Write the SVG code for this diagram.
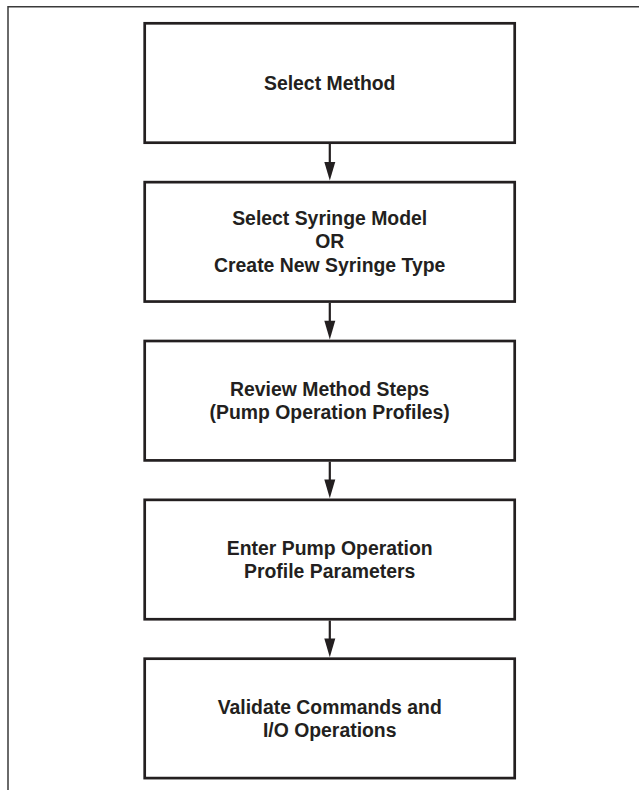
<svg xmlns="http://www.w3.org/2000/svg" width="639" height="790" viewBox="0 0 639 790">
<style>
.frame{fill:none;stroke:#3a3a3a;stroke-width:1.5}
.box{fill:#fff;stroke:#231f20;stroke-width:2.7}
.lbl{font-family:"Liberation Sans",Arial,Helvetica,sans-serif;font-weight:bold;font-size:19.4px;fill:#231f20;text-anchor:middle}
.conn{stroke:#231f20;stroke-width:2.2;fill:none}
.head{fill:#231f20}
</style>
<rect width="639" height="790" fill="#fff"/>
<path class="frame" d="M8,790 V6.8 H639"/>
<g id="connectors">
<line class="conn" x1="329.8" y1="144" x2="329.8" y2="163"/>
<path class="head" d="M324.3,162 L335.3,162 L329.8,180.5 Z"/>
<line class="conn" x1="329.8" y1="302.9" x2="329.8" y2="321.8"/>
<path class="head" d="M324.3,320.8 L335.3,320.8 L329.8,339.4 Z"/>
<line class="conn" x1="329.8" y1="461.7" x2="329.8" y2="480.6"/>
<path class="head" d="M324.3,479.6 L335.3,479.6 L329.8,498.3 Z"/>
<line class="conn" x1="329.8" y1="620.6" x2="329.8" y2="639.5"/>
<path class="head" d="M324.3,638.5 L335.3,638.5 L329.8,657.2 Z"/>
</g>
<g id="n1">
<rect class="box" x="144.7" y="23.3" width="370" height="119.4"/>
<text class="lbl" x="329.7" y="90">Select Method</text>
</g>
<g id="n2">
<rect class="box" x="144.7" y="182.15" width="370" height="119.4"/>
<text class="lbl" x="329.7" y="225">Select Syringe Model</text>
<text class="lbl" x="329.7" y="248.3">OR</text>
<text class="lbl" x="329.7" y="271.6">Create New Syringe Type</text>
</g>
<g id="n3">
<rect class="box" x="144.7" y="341" width="370" height="119.4"/>
<text class="lbl" x="329.7" y="396.2">Review Method Steps</text>
<text class="lbl" x="329.7" y="419">(Pump Operation Profiles)</text>
</g>
<g id="n4">
<rect class="box" x="144.7" y="499.85" width="370" height="119.4"/>
<text class="lbl" x="329.7" y="555">Enter Pump Operation</text>
<text class="lbl" x="329.7" y="577.8">Profile Parameters</text>
</g>
<g id="n5">
<rect class="box" x="144.7" y="658.7" width="370" height="119.4"/>
<text class="lbl" x="329.7" y="714">Validate Commands and</text>
<text class="lbl" x="329.7" y="736.7">I/O Operations</text>
</g>
</svg>
